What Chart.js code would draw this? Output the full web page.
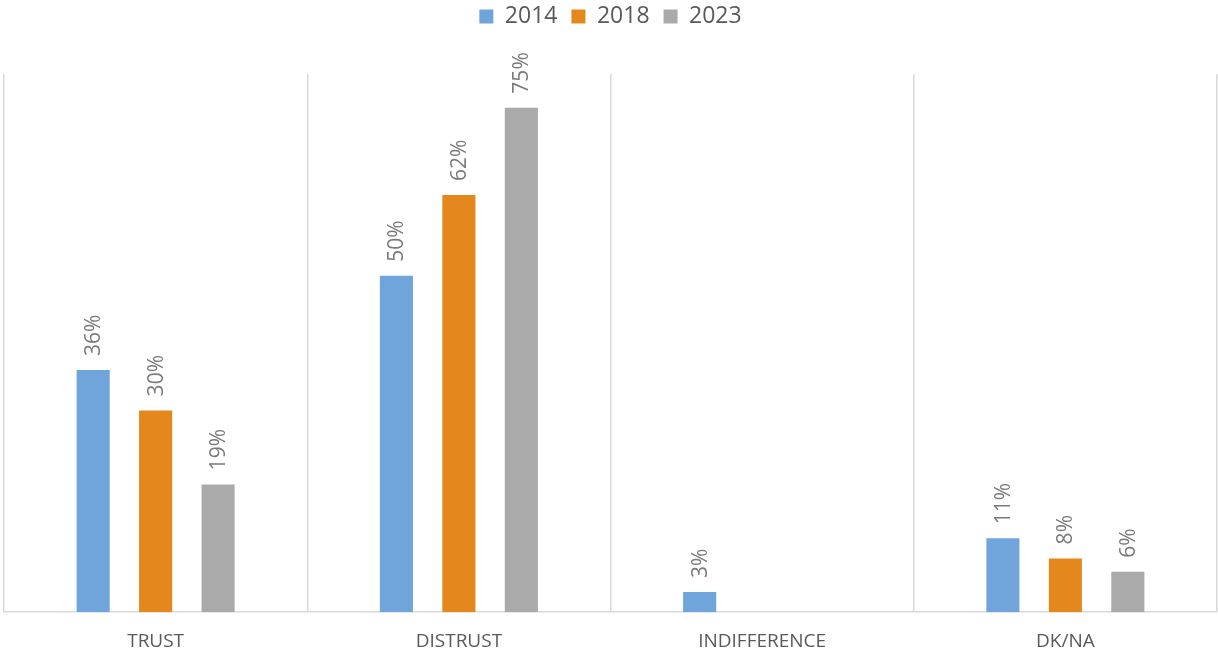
<!DOCTYPE html>
<html>
<head>
<meta charset="utf-8">
<script src="https://cdn.jsdelivr.net/npm/chart.js@4/dist/chart.umd.min.js"></script>
<style>
  html, body { margin: 0; padding: 0; background: #ffffff; }
  #wrap { width: 1218px; height: 653px; position: relative; }
</style>
</head>
<body>
<div id="wrap"><canvas id="c"></canvas></div>
<script>
const categories = ["TRUST", "DISTRUST", "INDIFFERENCE", "DK/NA"];
const seriesNames = ["2014", "2018", "2023"];
const values2014 = [36, 50, 3, 11];
const values2018 = [30, 62, null, 8];
const values2023 = [19, 75, null, 6];
const seriesColors = ["#6FA5DB", "#E4881E", "#AAAAAA"];
const yMax = 80;

const FONT = "'Open Sans', 'Liberation Sans', sans-serif";

const legendMargin = {
  id: 'legendMargin',
  beforeInit(chart) {
    const origFit = chart.legend.fit;
    chart.legend.fit = function () {
      origFit.bind(chart.legend)();
      this.height += 36;
    };
  }
};

const barLabels = {
  id: 'barLabels',
  afterDatasetsDraw(chart) {
    const ctx = chart.ctx;
    ctx.save();
    ctx.font = "21px " + FONT;
    ctx.fillStyle = "#7A7A7A";
    ctx.textAlign = "left";
    ctx.textBaseline = "middle";
    chart.data.datasets.forEach((ds, i) => {
      const meta = chart.getDatasetMeta(i);
      meta.data.forEach((bar, j) => {
        const v = ds.data[j];
        if (v === null || v === undefined) return;
        ctx.save();
        ctx.translate(bar.x + 1, bar.y - 14);
        ctx.rotate(-Math.PI / 2);
        ctx.fillText(v + "%", 0, 0);
        ctx.restore();
      });
    });
    ctx.restore();
  }
};

const allValues = [values2014, values2018, values2023];

new Chart(document.getElementById('c'), {
  type: 'bar',
  data: {
    labels: categories,
    datasets: seriesNames.map((name, i) => ({
      label: name,
      data: allValues[i],
      backgroundColor: seriesColors[i],
      borderWidth: 0,
      categoryPercentage: 0.618,
      barPercentage: 0.53
    }))
  },
  options: {
    responsive: true,
    maintainAspectRatio: false,
    animation: false,
    layout: { padding: { left: 4, right: 1, top: -9, bottom: -18 } },
    plugins: {
      legend: {
        position: 'top',
        align: 'center',
        labels: {
          boxWidth: 14,
          boxHeight: 14,
          padding: 14,
          color: "#595959",
          font: { family: FONT, size: 23 }
        }
      },
      tooltip: { enabled: false }
    },
    scales: {
      x: {
        offset: true,
        grid: {
          offset: true,
          display: true,
          color: "#D9D9D9",
          lineWidth: 1.5,
          drawTicks: false
        },
        border: { display: true, color: "#D9D9D9", width: 1.5 },
        ticks: {
          color: "#595959",
          font: { family: FONT, size: 19 },
          padding: 18,
          maxRotation: 0
        }
      },
      y: {
        display: false,
        min: 0,
        max: yMax
      }
    }
  },
  plugins: [legendMargin, barLabels]
});
</script>
</body>
</html>
